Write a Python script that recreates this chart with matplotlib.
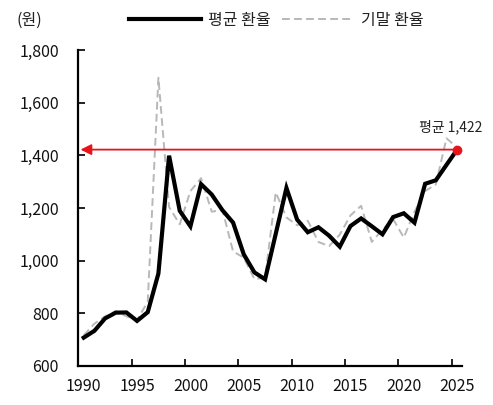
import matplotlib
matplotlib.use("Agg")
import matplotlib.pyplot as plt
from matplotlib.ticker import FixedLocator, FuncFormatter

plt.rcParams['font.family'] = ['Noto Sans CJK KR', 'DejaVu Sans']
plt.rcParams['font.weight'] = 'light'
plt.rcParams['text.color'] = '#222222'
plt.rcParams['xtick.color'] = '#111111'
plt.rcParams['ytick.color'] = '#111111'

years = list(range(1990, 2026))
avg_rate = [707.8, 733.6, 780.7, 802.7, 803.4, 771.3, 804.5, 951.3, 1398.9, 1189.5,
            1130.6, 1290.8, 1251.2, 1191.9, 1144.7, 1024.1, 955.5, 929.3, 1102.6, 1276.4,
            1156.3, 1108.1, 1126.9, 1095.0, 1053.2, 1131.5, 1160.5, 1130.8, 1100.3, 1165.7,
            1180.1, 1144.4, 1292.2, 1305.4, 1364.0, 1422.0]
end_rate = [716.4, 760.8, 788.4, 808.1, 788.7, 774.7, 844.2, 1695.0, 1204.0, 1138.0,
            1264.5, 1313.5, 1186.2, 1192.6, 1035.1, 1011.6, 929.8, 936.1, 1259.5, 1164.5,
            1134.8, 1151.8, 1071.1, 1055.3, 1099.2, 1172.0, 1208.5, 1071.4, 1118.1, 1157.8,
            1088.0, 1185.5, 1264.5, 1289.4, 1465.0, 1430.0]
avg_level = 1422
avg_label = "평균 1,422"
xtick_labels = [1990, 1995, 2000, 2005, 2010, 2015, 2020, 2025]
yticks = [600, 800, 1000, 1200, 1400, 1600, 1800]

fig = plt.figure(figsize=(4.93, 4.05), dpi=100)
ax = fig.add_axes([0.159, 0.0963, 0.778, 0.78])

ax.plot(years, end_rate, color='#b8b8b8', lw=1.4, ls=(0, (4, 2.2)), label='기말 환율', zorder=2)
ax.plot(years, avg_rate, color='black', lw=3.0, label='평균 환율', zorder=3,
        solid_joinstyle='miter')

# red average arrow
ax.annotate('', xy=(1989.7, avg_level), xytext=(years[-1], avg_level),
            arrowprops=dict(arrowstyle='-|>', color='#e8141b', lw=1.3,
                            mutation_scale=16, shrinkA=0, shrinkB=0), zorder=4)
ax.plot([years[-1]], [avg_level], 'o', color='#e8141b', ms=6, zorder=5)
ax.text(years[-1] - 0.6, avg_level + 60, avg_label, ha='center', va='bottom', fontsize=10)

ax.set_xlim(1989.5, 2025.45)
ax.set_ylim(600, 1800)

for s in ['top', 'right']:
    ax.spines[s].set_visible(False)
for s in ['left', 'bottom']:
    ax.spines[s].set_linewidth(1.6)

ax.set_yticks(yticks)
ax.yaxis.set_major_formatter(FuncFormatter(lambda v, p: f"{int(v):,}"))
ax.tick_params(axis='y', direction='in', length=5, width=1.3, pad=14, labelsize=11.5)

ax.xaxis.set_major_locator(FixedLocator(xtick_labels))
ax.xaxis.set_minor_locator(FixedLocator([y - 0.5 for y in xtick_labels]))
ax.tick_params(axis='x', which='major', length=0, pad=9, labelsize=11.5)
ax.tick_params(axis='x', which='minor', direction='in', length=5, width=1.3)

fig.text(0.034, 0.95, '(원)', fontsize=11.5, va='center', ha='left')

handles, labels = ax.get_legend_handles_labels()
leg = fig.legend([handles[1], handles[0]], [labels[1], labels[0]], loc='center',
                 bbox_to_anchor=(0.561, 0.95), ncol=2, frameon=False, fontsize=11.5,
                 handlelength=4.5, columnspacing=0.7, handletextpad=0.45)

fig.savefig('out.png', dpi=100)
